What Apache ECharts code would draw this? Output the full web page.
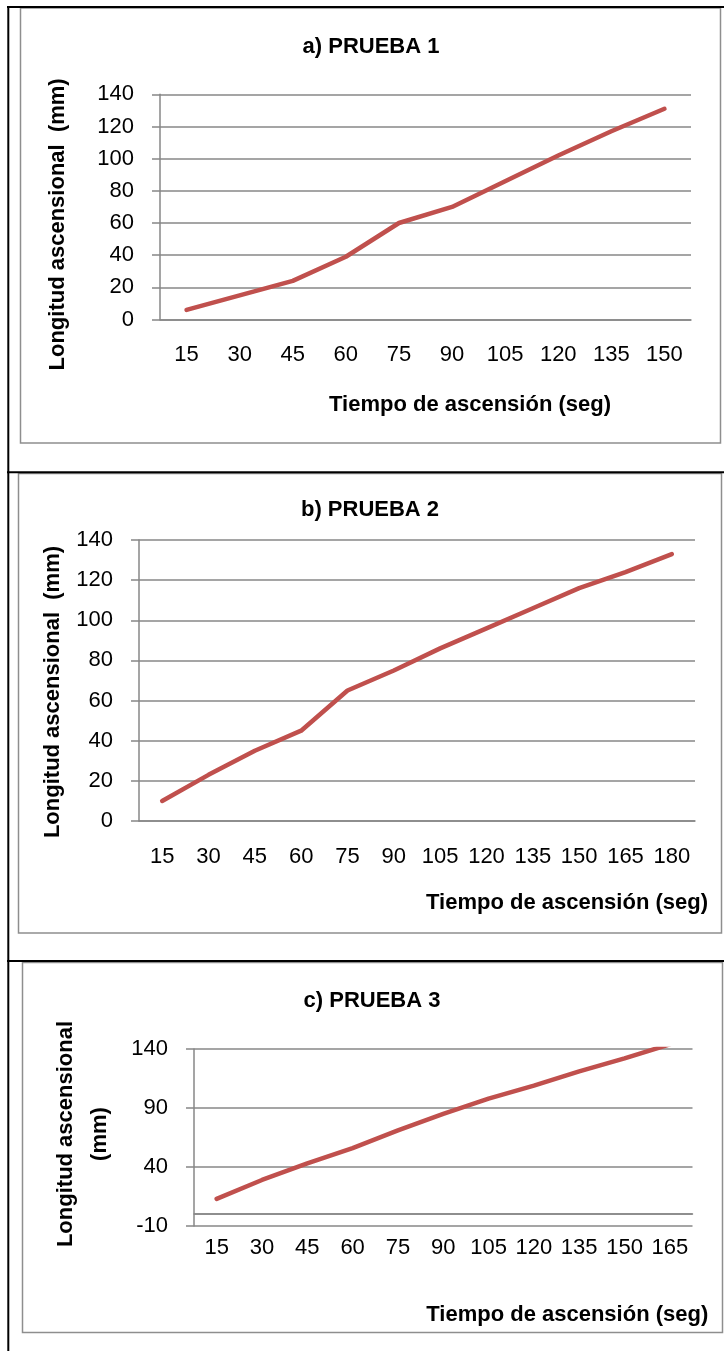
<!DOCTYPE html>
<html><head><meta charset="utf-8">
<script src="https://cdn.jsdelivr.net/npm/echarts@6/dist/echarts.min.js"></script>
<style>html,body{margin:0;padding:0;background:#fff}#c{width:724px;height:1351px}</style>
</head><body><div id="c"></div>
<script>
// ---- data ----
const titles = ['a) PRUEBA 1', 'b) PRUEBA 2', 'c) PRUEBA 3'];
const xTitle = 'Tiempo de ascensión (seg)';
const yTitleAB = 'Longitud ascensional  (mm)';
const yTitleC = 'Longitud ascensional\n(mm)';

const catA = ['15','30','45','60','75','90','105','120','135','150'];
const valA = [6, 15, 24, 39, 60, 70, 86, 102, 117, 131];
const yTicksA = [0, 20, 40, 60, 80, 100, 120, 140];

const catB = ['15','30','45','60','75','90','105','120','135','150','165','180'];
const valB = [10, 23, 35, 45, 65, 75, 86, 96, 106, 116, 124, 133];
const yTicksB = [0, 20, 40, 60, 80, 100, 120, 140];

const catC = ['15','30','45','60','75','90','105','120','135','150','165'];
const valC = [13, 29, 43, 56, 71, 85, 98, 109, 121, 132, 144];
const yTicksC = [-10, 40, 90, 140];
const zeroLineC = 0;

// ---- style ----
const FONT = '"Liberation Sans", Arial, sans-serif';
const GRID = '#878787';
const FRAME = '#8e8e8e';
const RED = '#C0504D';

const panels = [
  {cats: catA, vals: valA, ticks: yTicksA, grid: {left:160, top:94.3, width:531, height:225.2},
   xLabelMargin: 24, xNameGap: 74, xNamePad: [0,0,0,89], yName: yTitleAB, yNameGap: 90, yNamePad: [0,35,0,0], yNameLH: 24},
  {cats: catB, vals: valB, ticks: yTicksB, grid: {left:139, top:540, width:556, height:281},
   xLabelMargin: 25, xNameGap: 71, xNamePad: [0,0,0,300], yName: yTitleAB, yNameGap: 71, yNamePad: [0,23,0,0], yNameLH: 24},
  {cats: catC, vals: valC, ticks: yTicksC, grid: {left:194, top:1049, width:498.5, height:177},
   xLabelMargin: 11, xNameGap: 78, xNamePad: [0,0,0,248], yName: yTitleC, yNameGap: 77, yNamePad: [0,0,0,7], yNameLH: 34}
];
const titlePos = [{x:371, y:36}, {x:370, y:499}, {x:372, y:990}];

const chart = echarts.init(document.getElementById('c'), null, {renderer: 'canvas'});

const option = {
  animation: false,
  backgroundColor: '#fff',
  title: titles.map((t, i) => ({
    text: t, left: titlePos[i].x, top: titlePos[i].y, textAlign: 'center', padding: 0,
    textStyle: {fontFamily: FONT, fontWeight: 'bold', fontSize: 22, color: '#000'}
  })),
  grid: panels.map(p => Object.assign({containLabel: false}, p.grid)),
  xAxis: panels.map((p, i) => ({
    type: 'category', gridIndex: i, data: p.cats, boundaryGap: true,
    name: xTitle, nameLocation: 'middle', nameGap: p.xNameGap,
    nameTextStyle: {fontFamily: FONT, fontWeight: 'bold', fontSize: 22, color: '#000', padding: p.xNamePad},
    axisLine: {show: true, lineStyle: {color: GRID, width: 1.5}},
    axisTick: {show: false},
    axisLabel: {fontFamily: FONT, fontSize: 22, color: '#000', margin: p.xLabelMargin, interval: 0},
    splitLine: {show: false}
  })),
  yAxis: panels.map((p, i) => ({
    type: 'value', gridIndex: i,
    min: p.ticks[0], max: p.ticks[p.ticks.length - 1], interval: p.ticks[1] - p.ticks[0],
    name: p.yName, nameLocation: 'middle', nameGap: p.yNameGap, nameRotate: 90,
    nameTextStyle: {fontFamily: FONT, fontWeight: 'bold', fontSize: 22, color: '#000', padding: p.yNamePad, lineHeight: p.yNameLH, align: 'center'},
    axisLine: {show: true, lineStyle: {color: GRID, width: 1.5}},
    axisTick: {show: true, inside: false, length: 8, lineStyle: {color: GRID, width: 1.5}},
    axisLabel: {fontFamily: FONT, fontSize: 22, color: '#000', margin: 26},
    splitLine: {show: true, lineStyle: {color: GRID, width: 1.5}}
  })),
  series: panels.map((p, i) => {
    const s = {
      type: 'line', xAxisIndex: i, yAxisIndex: i, data: p.vals,
      symbol: 'none', smooth: false, clip: true, silent: true,
      lineStyle: {color: RED, width: 4.5, cap: 'round', join: 'round'}
    };
    if (i === 2) {
      s.markLine = {
        silent: true, symbol: 'none', label: {show: false},
        lineStyle: {color: GRID, width: 1.5, type: 'solid'},
        data: [{yAxis: zeroLineC}]
      };
    }
    return s;
  }),
  graphic: [
    {type: 'rect', shape: {x: 20.5, y: 8, width: 700, height: 435}, style: {fill: null, stroke: FRAME, lineWidth: 1.5}, silent: true},
    {type: 'rect', shape: {x: 18.5, y: 473.5, width: 703, height: 459.5}, style: {fill: null, stroke: FRAME, lineWidth: 1.5}, silent: true},
    {type: 'rect', shape: {x: 22.5, y: 962.5, width: 700, height: 370}, style: {fill: null, stroke: FRAME, lineWidth: 1.5}, silent: true},
    {type: 'line', shape: {x1: 8.3, y1: 6, x2: 8.3, y2: 1351}, style: {stroke: '#000', lineWidth: 2}, silent: true},
    {type: 'line', shape: {x1: 7, y1: 7, x2: 724, y2: 7}, style: {stroke: '#000', lineWidth: 2}, silent: true},
    {type: 'line', shape: {x1: 7, y1: 472.3, x2: 724, y2: 472.3}, style: {stroke: '#000', lineWidth: 2}, silent: true},
    {type: 'line', shape: {x1: 7, y1: 961, x2: 724, y2: 961}, style: {stroke: '#000', lineWidth: 2}, silent: true}
  ]
};
chart.setOption(option);
</script>
</body></html>
